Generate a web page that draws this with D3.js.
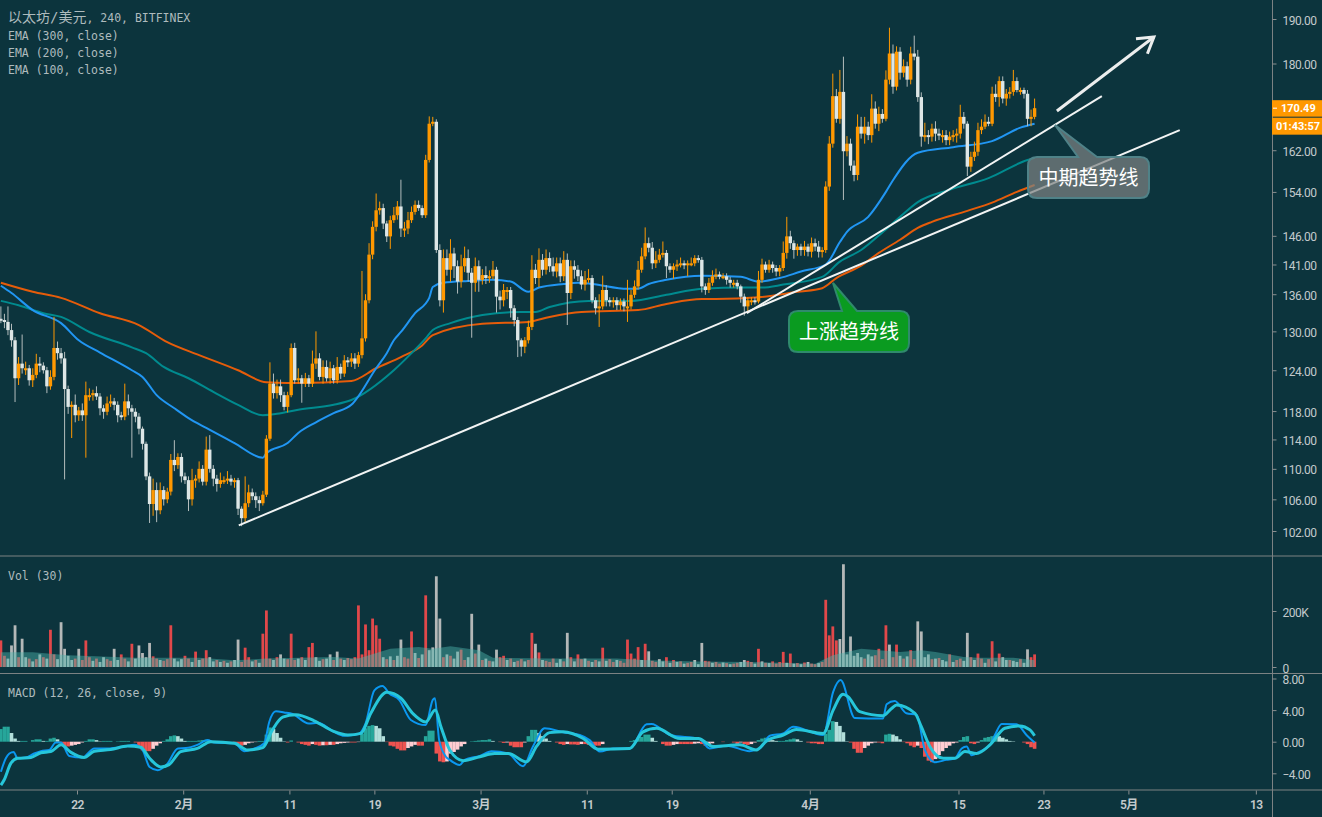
<!DOCTYPE html>
<html>
<head>
<meta charset="utf-8">
<script src="https://cdn.jsdelivr.net/npm/d3@7/dist/d3.min.js"></script>
<style>
  html, body { margin: 0; padding: 0; background: #0c343d; overflow: hidden; }
  svg { display: block; }
  .axis text { font-family: Roboto, sans-serif; font-size: 12px; fill: #c3cacc; letter-spacing: -0.5px; }
  .axis line { stroke: #8a8f90; }
  .axis .domain { display: none; }
  .legend { font-family: "DejaVu Sans Mono", "Noto Sans CJK SC", monospace; font-size: 11.5px; fill: #aebbbd; }
</style>
</head>
<body>
<div id="chart"></div>
<script>
// ETH/USD, one candle per 8 hours, open = previous close
const firstCandle = Date.UTC(2019, 0, 14, 20);
const firstOpen = 132;
const closes = [
  131.8,131.5,130.2,128.6,122.8,125,124.3,124.3,122.5,123.3,125,124.7,124,121.6,123,127.4,126.6,125.8,121.2,118.6,
  118.9,117.4,118.1,117.4,120.3,120.3,120.6,120.1,118.4,117.9,119.1,119.4,118.9,117.4,117.2,119.4,118.4,117.9,117.2,115.5,
  113.4,109,105.4,107.2,104.6,107.2,106,107,111.2,110.5,111.6,109,108.5,106,108.5,108.7,110,108.3,112.6,110,
  108.7,108,108.5,108.5,108.7,108.3,108.5,104.8,103.6,105.5,106.9,106.4,105.9,105.5,106.6,114.1,122,120.6,121.6,120.3,
  118.6,120.3,127.4,122.5,122.8,122,122.8,122,125,125.8,123,124.5,122.8,124.3,122.5,124.5,123.5,125.5,125.3,125.8,
  125,126.3,128.9,135,142.7,147.6,150.6,151,148.2,145.9,148.8,149.7,151.3,147.3,147.3,148.8,150.3,151.6,151,149.7,
  160.1,167.3,167.7,143.5,135,142.1,140.1,142.9,140.7,138.1,140.7,142.1,139.6,137.9,140.7,138.4,139.2,138.7,139,140.1,
  135.6,135,136.7,136.7,133.7,131.8,128.6,127.6,128.6,130.7,140.1,138.7,141.8,140.1,142.1,140.7,139.8,141.2,139,141.8,
  136.2,140.7,140.1,139,137.6,138.4,138.7,135,133.7,134,136.7,135,134.8,135,134.2,134.8,134,134,135.9,137.3,
  140.1,142.4,144.7,143.9,141.2,141.8,142.7,143,140.7,140.1,140.7,141,141.2,141,141.2,141.2,142.1,141.8,137.3,136.7,
  137.9,139,139.3,139,139,138.4,137.9,137.9,137.3,135.6,134,135,135,134.8,138.4,141,140.1,141,140.4,139.8,
  140.4,143,145.9,144.7,143.5,144.1,143.5,144.1,143.2,144.7,144.1,143.2,143.5,155,163.3,173,168.3,173.9,161.8,163.3,
  159,157.2,166.7,165.3,166.7,165,170.4,167.3,169.3,168.3,176.5,182.2,175,182.6,178,179.4,176.5,182.2,181.5,172.8,
  164.7,165,164.7,166.3,165.3,165,165,164,164.7,165,165.3,168.7,167.3,158.8,160.7,161.7,166,166.7,167.7,167.3,
  173.5,172.8,176.2,172.5,173.5,173.9,176.2,174.3,174.3,173.5,168.3,168.7,170.49
];
const upperWicks = [
  2,1,2.5,1,.5,1,4.5,1,.5,1,1.5,1,.5,.5,1,4.9,1,.8,1,.5,
  .5,1.5,.5,1,2,1,.5,1,.5,.5,1,1,.5,.5,.5,2.6,1,.5,.5,.5,
  .3,.3,.5,1.5,1,1,.5,.5,.8,2.7,.5,.5,.5,.5,1.5,.5,1,.5,1.8,2,
  .5,.5,1,.5,1,.5,.3,.3,.3,3.5,1,.5,.5,.5,.5,.5,3.2,1.5,1,1,
  .5,.5,.7,.8,1.5,.5,.8,.5,2,4.2,.8,1,1,1,.5,1.5,.5,.8,.5,.8,
  .8,.5,11,1,2,1,3.1,1.2,.8,.5,.8,1.5,1,5,1.2,1.5,1,.8,.8,.5,
  1,1.5,1,.5,1,1.5,1.5,2.5,1,1,2,2,1.5,.8,1.5,1,1,1.5,1,1.5,
  .5,1,1,.5,.5,.5,.5,.3,.5,1,2.5,1,2,1,1.5,1,1.5,1,1,1.5,
  1.1,1,1,.8,1,1.5,1.5,.5,.5,2,2.4,.8,.5,.5,.5,.5,.5,4.4,.8,1,
  1.5,1.5,2.8,1,1,1.5,1,2,.5,.5,.5,.8,1,.5,.5,1,.5,.5,.5,.5,
  .8,1,1,.5,.5,.5,.5,.5,.5,.3,.5,.5,.5,.5,1.5,1,.5,.8,.5,.5,
  .5,2,3.5,1,.5,.5,.5,1,.5,1,.8,1,.5,1,1.5,4.8,1.5,4.7,7.6,1.5,
  1,1,2.5,2,2,1,3,1.5,1.5,1,2,5.8,2,1.2,1,1.5,1,1.5,4,1.5,
  1,2.5,1,1,1.5,1,1,1,1,1,1,2.5,1,.5,1,2,1.5,1.5,1.5,1,
  1.5,2,1,1,1,1,2.4,.8,.5,.5,.8,1.5,2
];
const lowerWicks = [
  .5,1,.8,1,3.5,1,.8,1,.8,1,.5,1,.5,1,.5,.5,1,.8,12.6,1,
  4.4,1,.8,.8,5.9,.8,.8,.5,1,1,.5,.5,.8,1,.5,.5,1,6.4,.8,.8,
  .8,.5,2.4,1.5,1.5,.5,.8,.5,.5,.8,.5,.8,.5,1.5,.8,1,.5,.5,.5,.5,
  1,1,.5,.5,.5,.5,.8,.8,1,.5,.5,.5,1,1,.3,.3,.3,.8,.8,1,
  .5,.8,.3,.5,.5,2.8,.5,.5,.5,.8,.5,1,.5,.8,.5,.5,.8,.5,.8,.8,
  .8,.5,.5,.5,.5,.8,.8,.8,1,1,2.2,.5,.8,1.5,1.5,1,.5,.5,.5,.5,
  .5,.5,.5,.5,1,2,1,2,2,2,1,1,1.5,8.9,1.5,2,.8,1,.8,.5,
  2.6,1.5,1,1.5,1.5,1,2.6,1.5,1,.5,.5,1,1.5,1,.8,1,.8,1,1,.8,
  5.2,1,1.5,.8,.8,1,.5,.5,1,3,.5,1,.8,1,.8,.8,.8,2.5,.5,.5,
  .5,.5,.5,.8,1,.8,.5,.5,2,.5,1.5,.8,.5,.8,2,.5,.5,.5,1,.8,
  .5,.5,.5,.5,.5,.8,.8,.8,.5,1,1.5,1,.8,.5,.3,.5,.5,.5,.8,.8,
  .8,.5,1,1,1.5,1,1,1,.8,1,.8,1,1,.5,.8,.8,.8,1,9.3,1,
  1,1.2,1,1,2,1,1.5,1,1.5,.8,.5,1,1.5,.8,1.5,1,1.5,1,.8,1,
  2,1,1.5,1,1.5,1,1.5,1,1,1,1.5,1,1,1.8,1,.8,.8,.8,.5,.5,
  .5,1,2,1,1.5,1,.8,.5,1,1,1.5,1.5,.5
];

// EMA lines, candle index + price at the readable bends
const ema100Idx = [0,3,9,17,22,28,37,40,44,49,53,58,66,74,75,81,84,89,94,99,106,109,111,113,117,121,122,125,132,139,144,149,152,159,163,167,177,180,183,188,198,209,214,220,226,233,237,239,245,250,252,259,269,280,288,292];
const ema100 = [137.4,136.2,133.4,131.3,128.6,126.7,124,123,120.3,118.4,117,115.6,113.5,111.5,112.1,113.5,114.9,116.4,117.7,118.9,124.3,126.6,128.6,129.9,132.9,135.4,137.2,137.9,138.2,138.4,138.1,136.4,137.1,137.7,137.9,137.7,136.9,136.9,137.7,138.4,139.1,138.9,138.1,138.7,139.8,141,144.9,146.7,149.4,154,156.2,161.5,162.6,163.8,166.5,167.3];
const ema200Idx = [0,5,12,17,25,37,41,46,53,60,67,74,78,84,94,99,111,116,120,122,127,136,147,151,155,166,178,188,198,210,215,221,232,237,243,249,254,259,268,279,290,292];
const ema200 = [134.9,134.2,132.9,132.3,129.9,127.5,126.6,124.5,122.8,120.8,118.9,117.4,117.6,118.2,118.9,119.6,124,126.6,128.9,130.2,131.3,132.6,133.1,133.1,133.9,134.9,134.9,135.9,136.9,137.1,137.1,137.6,138.9,141.5,143.5,146.6,149.4,152.1,154.4,156.6,160.1,160.5];
const ema300Idx = [0,9,17,28,39,47,56,67,75,81,84,99,106,113,119,122,136,149,155,164,180,188,198,202,214,225,232,236,243,248,254,259,263,273,280,287,292];
const ema300 = [137.9,136.4,135.4,132.9,131,128.3,126.3,124,122.2,122.1,122.1,122.4,124.3,126,127.8,129.4,131.2,131.5,132.3,133.1,133.4,134.4,135.2,135.2,135.5,136.4,137,138.7,140.8,143,145.3,147.4,148.5,150.5,152,154,155.3];

// volume in thousands, negative = falling candle
const volumes = [
  95,40,-30,-77,-149,35,-101,-35,30,-20,28,-45,35,-30,133,45,-28,-160,-65,-40,
  -25,30,-65,25,95,35,-22,30,-18,-35,28,22,-65,-25,45,30,-20,83,-30,-77,
  -50,-35,-86,38,30,-25,22,28,149,-30,-20,-28,40,30,-18,55,-25,30,60,-35,
  -20,25,-18,22,-15,20,-25,-98,18,69,35,-20,25,-15,119,202,30,-25,35,-45,
  -30,28,119,25,-30,35,-25,71,86,-35,-22,28,-30,-45,25,-55,30,-25,32,28,
  35,220,45,152,60,173,149,101,-35,28,-38,25,-40,-98,35,30,127,-50,32,-45,
  256,-60,-70,-324,-173,35,-45,40,-30,-55,62,25,-35,-190,48,-80,25,-30,22,-20,
  -62,35,40,-25,30,-18,22,28,-20,25,122,-83,52,-25,22,18,30,-15,-28,20,
  -122,35,-20,45,28,-30,22,-18,25,-20,69,-22,28,18,-25,22,15,98,48,30,
  71,-25,83,-56,22,18,-28,-20,35,-15,25,-18,20,-12,15,18,-25,-10,-86,22,
  20,-15,18,12,-16,14,-10,12,15,-18,-25,22,18,-12,65,-20,15,-14,20,12,
  18,54,-15,48,-12,14,-10,16,-18,12,10,-14,18,240,113,145,95,-100,-367,-45,
  -109,-40,-50,-35,30,-45,-38,42,65,28,149,-80,35,80,-40,30,-38,60,28,-163,
  -127,-35,-45,28,-30,32,-25,-20,45,-18,25,30,-22,-122,35,-25,48,30,-15,28,
  92,-20,48,-35,-25,25,-22,-18,28,-15,-63,35,45
];
const volMaIdx = [0,9,19,38,56,66,75,94,101,104,110,118,122,127,135,139,155,174,183,197,211,230,235,243,248,254,260,264,272,276,286,292];
const volMa = [53,53,42,33,33,24,30,36,30,42,65,71,65,74,60,33,30,30,24,20,18,12,42,65,60,54,60,54,36,33,33,24];

const macdIdx = [0,1.4,2.4,3.6,4.7,7,9.4,11.3,13.7,15.5,17,19.3,23,26.4,30,35,37.7,40,42,44.3,47,50,52.3,55.5,58.4,60.3,66,68.7,71.6,74.4,75.8,77.7,80,82.4,87,89.5,94,97,101,103,105.5,107.8,109.7,112.5,115.8,120,122,122.6,123.8,125.7,126.8,129.6,131,135.3,138.6,143.3,147.5,150.3,153.6,158.8,163.5,166.3,169.2,172.9,177.6,182.4,183.8,189,197.4,200.2,205,211.5,214.4,217.2,221,223.8,232.3,235.1,237.2,241.2,245,249.2,250.2,252.5,255.8,258.7,261,263.8,267.1,269.5,271.4,272.8,274.2,276.5,279.4,280.8,282.7,286.9,289.7,292];
const macdLine = [-3.8,-2.1,-1.5,-1.3,-2.1,-2,-1.5,-1.2,-1.05,-.1,-.1,-1.8,-2,-.85,-.85,-.6,-.4,-1.05,-3.2,-3.6,-2.8,-.85,-.8,-.4,.2,-.1,-.2,-1.2,-.85,-.2,2.5,3.85,3.7,3.5,2.3,2.4,1.27,.76,.97,2.3,6.5,7.05,6.1,5.3,2.75,2.1,5.3,5.5,.2,-1.9,-2.3,-2.95,-2.3,-1.8,-1.2,-1.5,-3.1,-.6,1.7,1.2,.85,.2,-1.25,-.85,-.85,2.2,2.25,.85,.35,-.85,-.5,-1.2,-.85,.75,1.05,1.9,.85,6.3,7.8,3,2.95,2.95,4.75,5.15,3.6,3.4,-1.05,-2.6,-2.3,-2.1,-.85,-.6,-1.7,-1.25,-.4,.85,2.25,2.2,.85,-.1];
const signalIdx = [0,.9,2.8,4.7,8.5,11.3,14.1,17,19.8,23.5,26.4,31,35.8,39.5,42,45.2,47.5,50.8,55.5,59.3,66,69.7,74,76.7,79.6,83.3,88.5,94,98,101.7,104.5,109,113,116.3,120,122.7,124.3,126.8,130.6,135.3,139.5,143.3,148.5,151.3,155,158.8,164.5,168.7,177.6,181.4,185.2,191.8,197,201.2,208.7,213.4,216.3,221,224.7,232.3,235.1,237.9,239.3,242.6,249.2,251.6,253,258.2,260,262.4,266.2,269.5,272.3,275.6,279.4,283.6,287.8,290.7,292];
const signalLine = [-5.5,-4.85,-2.75,-2.1,-2,-1.4,-1.25,-.4,-1.35,-2,-1.2,-1,-.55,-.7,-2.1,-3.2,-2.9,-1.25,-.85,0,-.2,-1.05,-.75,1.5,3.1,3.4,2.65,1.3,.85,1.05,3.6,6.25,5.5,3.6,2.5,4,1.9,-1.05,-2.4,-1.9,-1.5,-1.5,-2.55,-.6,1.15,1.25,.4,-.95,-.85,1.25,1.7,.4,.4,-.6,-.4,-1.05,.1,.85,1.55,1.05,4,6,5.7,3.8,3.3,4.2,4.65,3.6,1.9,-.6,-2.1,-2.1,-1.25,-1.5,-.4,1.7,2,1.5,.75];
const macdHist = [
  1.6,1.9,1.9,1.1,.4,.1,.1,.1,0,.2,.3,.3,.1,.1,.4,.5,.3,-.2,-.6,-.6,
  -.5,-.4,-.3,-.1,.1,.3,.3,.2,.05,.1,.1,.1,0,.05,.1,.1,.1,0,-.1,-.8,
  -1.1,-1.2,-1.2,-.9,-.5,-.2,.1,.3,.7,.8,.7,.4,.1,.1,.1,.1,.15,.2,.25,.1,
  .05,0,0,0,0,0,-.2,-.3,-.5,-.4,-.2,-.1,-.05,.1,.1,.9,1.8,1.6,1.1,.5,
  .05,-.1,.15,0,-.1,-.3,-.4,-.5,-.3,-.4,-.5,-.45,-.45,-.4,-.4,-.3,-.2,-.15,-.1,-.1,
  -.1,-.05,1,1.7,2,2.1,2,1.7,.7,-.05,-.5,-.6,-.9,-1.1,-1.1,-.8,-.6,-.4,-.5,-.5,
  .7,1.4,1.4,-1.5,-2.5,-2.6,-2.5,-1.5,-1.3,-1,-.6,-.3,0,.05,.1,.15,.2,.2,.3,.1,
  0,-.05,-.15,-.1,-.5,-.7,-.7,-.7,-.1,.7,1.5,1.5,1.1,.7,.4,.1,0,-.1,-.3,-.4,
  -.3,-.35,-.35,-.4,-.3,-.3,-.4,-.5,-.5,-.5,-.3,0,0,0,0,0,0,0,.1,.2,
  .4,.6,.9,.9,.5,.1,0,-.3,-.5,-.5,-.4,-.3,-.3,-.3,-.3,-.3,-.25,-.2,-.3,-.5,
  -.4,-.2,0,0,-.05,0,0,-.1,-.3,-.1,-.3,-.4,-.3,-.1,.2,.4,.5,.3,.2,.1,
  .1,.1,.2,.3,.4,.3,.1,0,-.1,-.2,-.2,-.3,-.3,1,1.5,2.6,2.5,2,1.2,.05,
  -.1,-.9,-1.4,-1.4,-.8,-.5,-.2,-.1,-.1,-.2,.9,1,.9,.7,.3,-.05,-.2,-.5,-.7,-.5,
  -.8,-1.9,-2.4,-2.6,-2.2,-1.7,-1.2,-.8,-.5,-.2,-.1,.2,.6,.7,-.2,-.3,-.1,.2,.5,.6,
  .7,.9,.7,.5,.3,.1,.05,0,0,-.1,-.3,-.7,-.9
];

const priceTicks = [190,180,162,154,146,141,136,130,124,118,114,110,106,102];
const volumeTicks = [0,200];
const macdTicks = [-4,0,4,8];
const timeTicks = [[0,22],[1,1],[1,11],[1,19],[2,1],[2,11],[2,19],[3,1],[3,15],[3,23],[4,1],[4,13]];
const timeLabels = ['22','2月','11','19','3月','11','19','4月','15','23','5月','13'];
const legendLines = ['EMA (300, close)','EMA (200, close)','EMA (100, close)'];

// trend drawings as [candle index, price]
const longTrend = [[67.2,102.7],[333,166]];
const midTrend = [[210.7,132.9],[311,173]];
const upArrow = [[298.3,169.9],[325.7,185.9]];

const W = 1322, H = 817;
const axisX = 1272;
const bg = '#0c343d';
const upColor = '#ff9800', downColor = '#dde6e6';

const svg = d3.select('#chart').append('svg').attr('width', W).attr('height', H);
svg.append('rect').attr('width', W).attr('height', H).attr('fill', bg);

const x = d3.scaleUtc()
  .domain([Date.UTC(2019, 0, 14, 18), Date.UTC(2019, 4, 14, 12, 30)])
  .range([0, axisX]);
const yPrice = d3.scaleLog().domain([102, 190]).range([531, 19]);
const yVol = d3.scaleLinear().domain([0, 200]).range([667, 611]);
const yMacd = d3.scaleLinear().domain([-4, 8]).range([773.3, 678.5]);

const xi = i => x(new Date(firstCandle + i * 8 * 3600 * 1000));

// EMAs sit under the candles
function emaLine(idx, vals, color) {
  const line = d3.line().x(d => xi(d[0])).y(d => yPrice(d[1])).curve(d3.curveMonotoneX);
  svg.append('path')
    .attr('d', line(idx.map((d, i) => [d, vals[i]])))
    .attr('fill', 'none').attr('stroke', color).attr('stroke-width', 2);
}
emaLine(ema300Idx, ema300, '#e65c0a');
emaLine(ema200Idx, ema200, '#008b8f');
emaLine(ema100Idx, ema100, '#2196f3');

const candles = closes.map((c, i) => {
  const o = i ? closes[i - 1] : firstOpen;
  return {
    i, o, c,
    hi: Math.max(o, c) + upperWicks[i],
    lo: Math.min(o, c) - lowerWicks[i],
    up: c >= o
  };
});

const candleG = svg.append('g');
candleG.selectAll('line').data(candles).enter().append('line')
  .attr('x1', d => xi(d.i)).attr('x2', d => xi(d.i))
  .attr('y1', d => yPrice(d.hi)).attr('y2', d => yPrice(d.lo))
  .attr('stroke', d => d.up ? upColor : '#b4bdbd').attr('stroke-width', 1);
candleG.selectAll('rect').data(candles).enter().append('rect')
  .attr('x', d => xi(d.i) - 1.7)
  .attr('width', 3.4)
  .attr('y', d => Math.min(yPrice(d.o), yPrice(d.c)))
  .attr('height', d => Math.max(2, Math.abs(yPrice(d.o) - yPrice(d.c))))
  .attr('fill', d => d.up ? upColor : downColor);

// trend lines and arrow
const toPx = p => [xi(p[0]), yPrice(p[1])];
function trend(points, width, color) {
  svg.append('path')
    .attr('d', d3.line()(points.map(toPx)))
    .attr('fill', 'none').attr('stroke', color).attr('stroke-width', width);
}
trend(longTrend, 2, '#f2f4f4');
trend(midTrend, 2, '#f2f4f4');
trend(upArrow, 3, '#eceeee');

const [ax, ay] = toPx(upArrow[0]);
const [bx, by] = toPx(upArrow[1]);
const ang = Math.atan2(by - ay, bx - ax);
const head = a => [bx - 18 * Math.cos(ang + a), by - 18 * Math.sin(ang + a)];
svg.append('path')
  .attr('d', d3.line()([head(0.55), [bx, by], head(-0.55)]))
  .attr('fill', 'none').attr('stroke', '#eceeee').attr('stroke-width', 3);

// callouts
function callout(box, tip, base, label, fill, stroke) {
  const { l, t, r, b } = box, rad = 9;
  const d = `M${l + rad},${t} L${base[0]},${t} L${tip[0]},${tip[1]} L${base[1]},${t} L${r - rad},${t} Q${r},${t} ${r},${t + rad}` +
    ` L${r},${b - rad} Q${r},${b} ${r - rad},${b} L${l + rad},${b} Q${l},${b} ${l},${b - rad} L${l},${t + rad} Q${l},${t} ${l + rad},${t} Z`;
  svg.append('path').attr('d', d).attr('fill', fill).attr('stroke', stroke).attr('stroke-width', 2);
  svg.append('text')
    .attr('x', (l + r) / 2).attr('y', (t + b) / 2 + 7)
    .attr('text-anchor', 'middle')
    .attr('font-family', '"Noto Sans CJK SC", sans-serif')
    .attr('font-size', 20).attr('fill', '#ffffff')
    .text(label);
}
callout({ l: 789, t: 311, r: 909, b: 352 }, [833, 283], [842, 857], '上涨趋势线', '#0a9b20', '#2f8a6c');
callout({ l: 1028, t: 157, r: 1149, b: 198 }, [1055, 125], [1078, 1097], '中期趋势线', 'rgba(125,130,130,0.72)', '#4f8288');

// volume pane
const volData = volumes.map((v, i) => ({ i, v }));
svg.append('g').selectAll('rect').data(volData).enter().append('rect')
  .attr('x', d => xi(d.i) - 1.4)
  .attr('width', 2.8)
  .attr('y', d => yVol(Math.abs(d.v)))
  .attr('height', d => yVol(0) - yVol(Math.abs(d.v)))
  .attr('fill', d => d.v >= 0 ? '#e1484a' : '#b4b8b8');
const volArea = d3.area().x(d => xi(d[0])).y0(yVol(0)).y1(d => yVol(d[1]));
svg.append('path')
  .attr('d', volArea(volMaIdx.map((d, i) => [d, volMa[i]])))
  .attr('fill', 'rgba(77,182,172,0.45)');

// MACD pane
const histColor = (v, i) => {
  const prev = i ? macdHist[i - 1] : 0;
  if (v >= 0) return v >= prev ? '#26a69a' : '#b2dfdb';
  return v <= prev ? '#ef5350' : '#ffcdd2';
};
svg.append('g').selectAll('rect').data(macdHist).enter().append('rect')
  .attr('x', (d, i) => xi(i) - 1.8)
  .attr('width', 3.6)
  .attr('y', d => Math.min(yMacd(d), yMacd(0)))
  .attr('height', d => Math.abs(yMacd(d) - yMacd(0)))
  .attr('fill', histColor);

function macdPath(idx, vals, color, width) {
  const line = d3.line().x(d => xi(d[0])).y(d => yMacd(d[1])).curve(d3.curveMonotoneX);
  svg.append('path')
    .attr('d', line(idx.map((d, i) => [d, vals[i]])))
    .attr('fill', 'none').attr('stroke', color).attr('stroke-width', width);
}
macdPath(macdIdx, macdLine, '#0a97f0', 2);
macdPath(signalIdx, signalLine, '#26c6da', 3);

// frame
[556, 673.5, 790].forEach(y => {
  svg.append('line').attr('x1', 0).attr('x2', W).attr('y1', y).attr('y2', y)
    .attr('stroke', '#7c8283').attr('stroke-width', 1);
});
svg.append('line').attr('x1', axisX + .5).attr('x2', axisX + .5).attr('y1', 0).attr('y2', H)
  .attr('stroke', '#7c8283').attr('stroke-width', 1);

// axes
function rightAxis(scale, ticks, fmt) {
  svg.append('g').attr('class', 'axis')
    .attr('transform', `translate(${axisX + .5},0)`)
    .call(d3.axisRight(scale).tickValues(ticks).tickFormat(fmt).tickSize(4).tickPadding(6))
    .selectAll('text').attr('dy', '0.42em');
}
rightAxis(yPrice, priceTicks, d3.format('.2f'));
rightAxis(yVol, volumeTicks, d => d ? d + 'K' : '0');
rightAxis(yMacd, macdTicks, d3.format('.2f'));

const timeDates = timeTicks.map(d => new Date(Date.UTC(2019, d[0], d[1])));
svg.append('g').attr('class', 'axis')
  .attr('transform', 'translate(0,790.5)')
  .call(d3.axisBottom(x).tickValues(timeDates).tickFormat((d, i) => timeLabels[i]).tickSize(4).tickPadding(6))
  .selectAll('text')
  .attr('font-weight', 600)
  .style('font-family', 'Roboto, "Noto Sans CJK SC", sans-serif');

// last price tag
const last = closes[closes.length - 1];
const tagY = yPrice(last);
const tag = svg.append('g');
tag.append('rect').attr('x', axisX).attr('y', tagY - 8).attr('width', 50).attr('height', 16.5).attr('fill', upColor);
tag.append('rect').attr('x', axisX).attr('y', tagY + 9.5).attr('width', 50).attr('height', 17).attr('fill', upColor);
tag.append('line').attr('x1', axisX + 1).attr('x2', axisX + 5).attr('y1', tagY).attr('y2', tagY).attr('stroke', '#fff');
tag.append('text').attr('x', axisX + 9).attr('y', tagY + 4)
  .attr('font-family', 'Roboto, sans-serif').attr('font-size', 11).attr('font-weight', 700).attr('fill', '#fff')
  .text(last.toFixed(2));
tag.append('text').attr('x', axisX + 4).attr('y', tagY + 22)
  .attr('font-family', 'Roboto, sans-serif').attr('font-size', 11).attr('font-weight', 700).attr('fill', '#fff')
  .text('01:43:57');

// pane legends
const title = svg.append('text').attr('class', 'legend').attr('x', 8).attr('y', 22);
title.append('tspan').attr('font-size', 14).text('以太坊/美元');
title.append('tspan').text(', 240, BITFINEX');
[40, 57, 74].forEach((y, i) => {
  svg.append('text').attr('class', 'legend').attr('x', 8).attr('y', y).text(legendLines[i]);
});
svg.append('text').attr('class', 'legend').attr('x', 8).attr('y', 580).text('Vol (30)');
svg.append('text').attr('class', 'legend').attr('x', 8).attr('y', 697).text('MACD (12, 26, close, 9)');
</script>
</body>
</html>
